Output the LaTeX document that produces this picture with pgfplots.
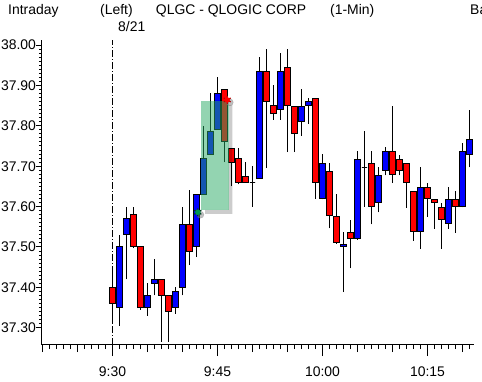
\documentclass[border=0pt]{standalone}
\usepackage{fontspec}
\setmainfont{Liberation Sans}
\usepackage{pgfplots}
\pgfplotsset{compat=1.18}
\definecolor{hlgreen}{RGB}{40,170,100}
\definecolor{mkgreen}{RGB}{0,150,80}
\newcommand\lbl{\fontsize{14}{14}\selectfont}
% minute (from 9:30), open, high, low, close
\newcommand\candle[5]{%
  \ifdim#5pt<#2pt \def\cc{red}\def\lo{#5}\def\hi{#2}\else\def\cc{blue}\def\lo{#2}\def\hi{#5}\fi
  \pgfmathsetmacro\xl{#1-0.37}\pgfmathsetmacro\xr{#1+0.37}%
  \edef\tmp{\noexpand\addplot[black, line width=1bp] coordinates {(#1,#4) (#1,#3)};
    \noexpand\addplot[draw=black, fill=\cc, line width=1bp] coordinates {(\xl,\lo) (\xr,\lo) (\xr,\hi) (\xl,\hi)} -- cycle;}%
  \tmp}
\pgfplotsset{common/.style={
  scale only axis, width=432.5bp, height=305bp,
  anchor=south west, at={(41.5bp,37bp)},
  xmin=-10.15, xmax=51.65, ymin=37.2574, ymax=38.0124,
  axis line style={line width=1bp, -, black},
  tick style={line width=1bp, black},
  tick align=outside,
  /pgf/number format/assume math mode=true,
  tick label style={font=\lbl, black},
}}
\begin{document}
\begin{tikzpicture}
\useasboundingbox (0,0) rectangle (482bp,382bp);
\fill[white] (0,0) rectangle (482bp,382bp);
% y axis
\begin{axis}[common,
  axis x line=none, axis y line*=left,
  ytick={37.3,37.4,37.5,37.6,37.7,37.8,37.9,38.0},
  minor y tick num=9,
  major tick length=5bp, minor tick length=2.5bp,
  yticklabel style={xshift=3bp, /pgf/number format/.cd, fixed, fixed zerofill, precision=2},
]
\addplot[draw=none] coordinates {(0,37.5)};
\end{axis}
% x axis and candles
\begin{axis}[common,
  axis y line=none, axis x line*=bottom,
  xtick={-10,-5,5,10,20,25,35,40,50}, xticklabels={},
  extra x ticks={0,15,30,45}, extra x tick labels={9:30,9:45,10:00,10:15},
  extra x tick style={major tick length=11bp},
  minor xtick={-10,-9,...,51},
  major tick length=7bp, minor tick length=4bp,
  xticklabel style={yshift=-7bp},
  clip=false,
]
\addplot[black, line width=1bp, dash pattern=on 7bp off 2bp on 1bp off 2bp] coordinates {(0,37.2574) (0,38.0124)};
\candle{0}{37.40}{37.45}{37.31}{37.36}
\candle{1}{37.35}{37.53}{37.305}{37.50}
\candle{2}{37.53}{37.60}{37.42}{37.57}
\candle{3}{37.58}{37.60}{37.497}{37.50}
\candle{4}{37.50}{37.50}{37.345}{37.35}
\candle{5}{37.35}{37.41}{37.33}{37.38}
\candle{6}{37.41}{37.47}{37.38}{37.42}
\candle{7}{37.42}{37.42}{37.265}{37.38}
\candle{8}{37.38}{37.38}{37.265}{37.34}
\candle{9}{37.35}{37.40}{37.335}{37.39}
\candle{10}{37.40}{37.60}{37.38}{37.555}
\candle{11}{37.555}{37.64}{37.455}{37.49}
\candle{12}{37.50}{37.63}{37.475}{37.63}
\candle{13}{37.63}{37.80}{37.63}{37.72}
\candle{14}{37.73}{37.88}{37.73}{37.785}
\candle{15}{37.79}{37.92}{37.79}{37.88}
\candle{16}{37.89}{37.89}{37.71}{37.76}
\candle{17}{37.745}{37.745}{37.65}{37.71}
\candle{18}{37.72}{37.745}{37.655}{37.66}
\candle{19}{37.675}{37.71}{37.66}{37.66}
\candle{20}{37.66}{37.70}{37.60}{37.66}
\candle{21}{37.67}{37.97}{37.67}{37.935}
\candle{22}{37.935}{37.99}{37.695}{37.86}
\candle{23}{37.85}{37.90}{37.815}{37.83}
\candle{24}{37.84}{37.98}{37.815}{37.935}
\candle{25}{37.945}{37.99}{37.735}{37.85}
\candle{26}{37.848}{37.848}{37.735}{37.78}
\candle{27}{37.81}{37.89}{37.775}{37.848}
\candle{28}{37.85}{37.87}{37.805}{37.86}
\candle{29}{37.868}{37.868}{37.62}{37.66}
\candle{30}{37.62}{37.73}{37.618}{37.707}
\candle{31}{37.687}{37.707}{37.546}{37.578}
\candle{32}{37.576}{37.63}{37.508}{37.51}
\candle{33}{37.50}{37.536}{37.388}{37.507}
\candle{34}{37.536}{37.566}{37.447}{37.52}
\candle{35}{37.52}{37.737}{37.518}{37.717}
\candle{36}{37.697}{37.786}{37.60}{37.697}
\candle{37}{37.707}{37.737}{37.556}{37.60}
\candle{38}{37.61}{37.697}{37.586}{37.677}
\candle{39}{37.69}{37.747}{37.677}{37.737}
\candle{40}{37.737}{37.848}{37.658}{37.68}
\candle{41}{37.717}{37.727}{37.677}{37.69}
\candle{42}{37.707}{37.707}{37.597}{37.66}
\candle{43}{37.638}{37.638}{37.516}{37.539}
\candle{44}{37.539}{37.697}{37.496}{37.648}
\candle{45}{37.648}{37.658}{37.575}{37.62}
\candle{46}{37.618}{37.618}{37.545}{37.611}
\candle{47}{37.598}{37.608}{37.496}{37.569}
\candle{48}{37.559}{37.648}{37.545}{37.618}
\candle{49}{37.618}{37.638}{37.535}{37.60}
\candle{50}{37.60}{37.757}{37.598}{37.737}
\candle{51}{37.729}{37.838}{37.697}{37.767}
% highlight shadow and box
\addplot[draw=none, fill=black, fill opacity=0.2] coordinates {(13.24,37.592) (16.57,37.592) (16.57,37.852) (17.14,37.852) (17.14,37.582) (13.24,37.582)} -- cycle;
\addplot[draw=none, fill=hlgreen, fill opacity=0.5] coordinates {(12.67,37.592) (16.57,37.592) (16.57,37.862) (12.67,37.862)} -- cycle;
% markers
\addplot[only marks, mark=*, mark size=3.5bp, gray, opacity=0.5] coordinates {(12.55,37.580) (16.75,37.858)};
\addplot[only marks, mark=asterisk, mark size=4bp, black!60!mkgreen, line width=1.2bp] coordinates {(12.19,37.586)};
\addplot[only marks, mark=*, mark size=2.5bp, mkgreen] coordinates {(12.19,37.586)};
\addplot[only marks, mark=asterisk, mark size=4bp, red!70!black, line width=1.2bp] coordinates {(16.39,37.864)};
\addplot[only marks, mark=*, mark size=2.5bp, red] coordinates {(16.39,37.864)};
\end{axis}
\node[anchor=base west, inner sep=0, font=\lbl] at (8bp,367bp) {Intraday};
\node[anchor=base west, inner sep=0, font=\lbl] at (100bp,367bp) {(Left)};
\node[anchor=base west, inner sep=0, font=\lbl] at (155.7bp,367bp) {QLGC - QLOGIC CORP};
\node[anchor=base west, inner sep=0, font=\lbl] at (330bp,367bp) {(1-Min)};
\node[anchor=base west, inner sep=0, font=\lbl] at (470bp,367bp) {Ba};
\node[anchor=base west, inner sep=0, font=\lbl] at (118bp,350.3bp) {8/21};
\end{tikzpicture}
\end{document}
